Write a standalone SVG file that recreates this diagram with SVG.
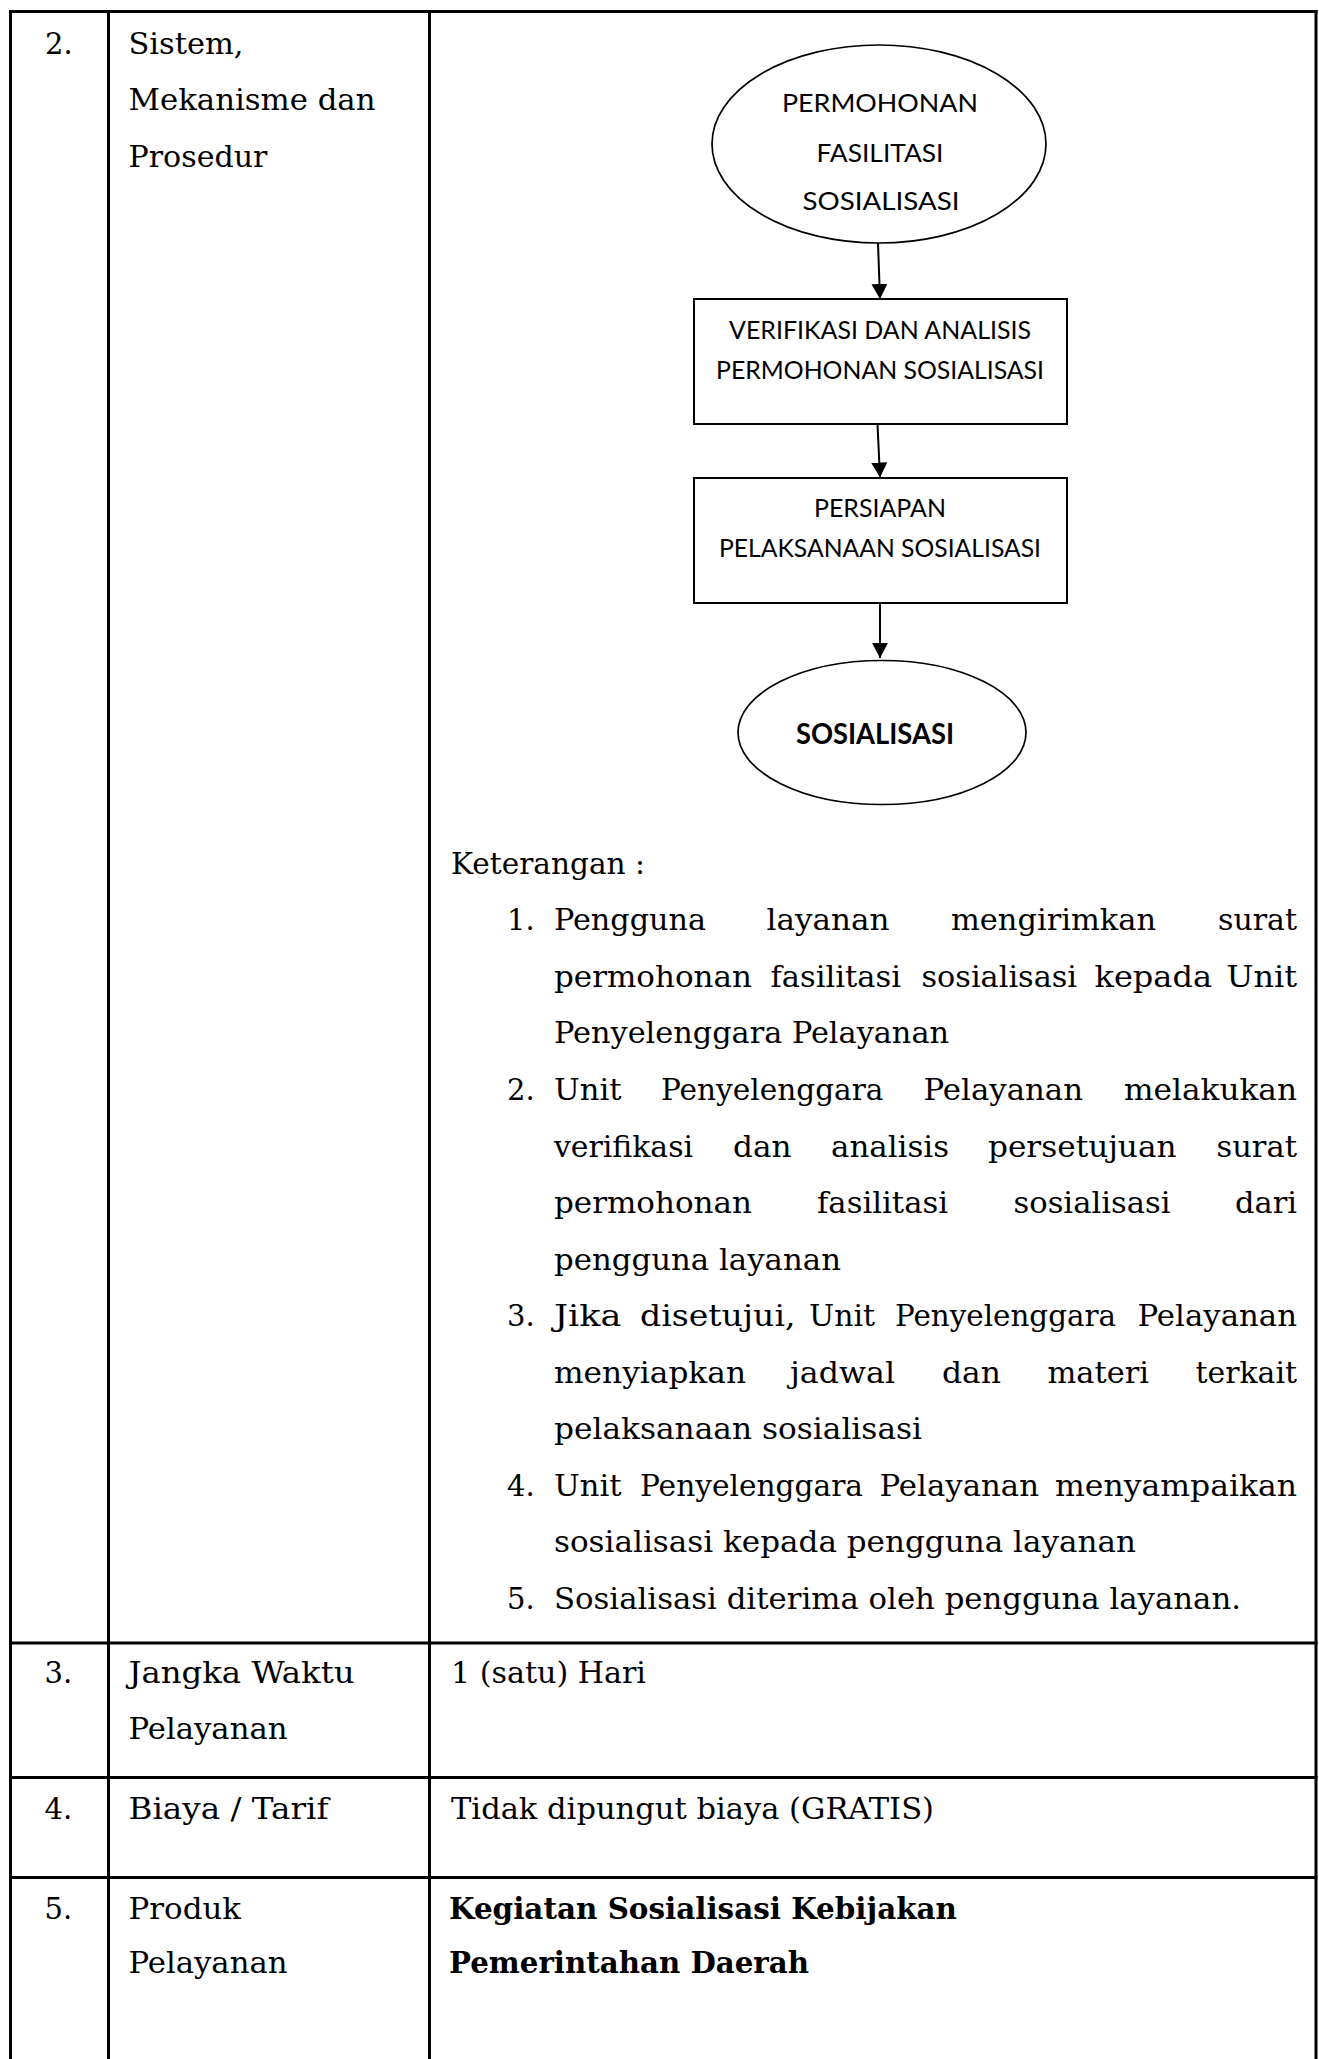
<svg xmlns="http://www.w3.org/2000/svg" width="1319" height="2059" viewBox="0 0 1319 2059">
  <style>
    .grid { stroke: #000; stroke-width: 3; fill: none; }
    .cell { font-family: "DejaVu Serif", "Liberation Serif", serif; font-size: 29px; fill: #000; }
    .bold { font-weight: bold; }
    .fc { font-family: Lato, "Liberation Sans", sans-serif; font-size: 25px; fill: #000; text-anchor: middle; }
    .fcb { font-weight: bold; font-size: 28px; }
    .oval { fill: #fff; stroke: #000; stroke-width: 1.7; }
    .box { fill: #fff; stroke: #000; stroke-width: 2; }
    .edge { stroke: #000; stroke-width: 2; fill: none; marker-end: url(#arrow); }
  </style>
  <defs>
    <marker id="arrow" markerUnits="userSpaceOnUse" viewBox="0 0 15 16" markerWidth="15" markerHeight="16" refX="15" refY="8" orient="auto">
      <path d="M0,0 L15,8 L0,16 Z" fill="#000"/>
    </marker>
  </defs>

  <rect x="0" y="0" width="1319" height="2059" fill="#fff"/>

  <!-- table grid -->
  <g id="table-grid" class="grid">
    <line x1="9" y1="11.5" x2="1317.5" y2="11.5"/>
    <line x1="10.5" y1="10" x2="10.5" y2="2059"/>
    <line x1="108.5" y1="10" x2="108.5" y2="2059"/>
    <line x1="429.5" y1="10" x2="429.5" y2="2059"/>
    <line x1="1316" y1="10" x2="1316" y2="2059"/>
    <line x1="9" y1="1643" x2="1317.5" y2="1643"/>
    <line x1="9" y1="1777.5" x2="1317.5" y2="1777.5"/>
    <line x1="9" y1="1877.5" x2="1317.5" y2="1877.5"/>
  </g>

  <!-- row 2: system, mechanism and procedure -->
  <g id="row-2-labels" class="cell">
    <text x="45" y="53.5">2.</text>
    <text x="128.5" y="53.5" textLength="115" lengthAdjust="spacingAndGlyphs">Sistem,</text>
    <text x="128.5" y="110" textLength="247" lengthAdjust="spacingAndGlyphs">Mekanisme dan</text>
    <text x="128.5" y="166.5" textLength="139" lengthAdjust="spacingAndGlyphs">Prosedur</text>
  </g>

  <!-- flowchart connectors -->
  <g id="connectors">
    <path class="edge" d="M878,243 L880,299"/>
    <path class="edge" d="M877.5,424 L880,477.5"/>
    <path class="edge" d="M880,603 L880,658"/>
  </g>

  <!-- flowchart nodes -->
  <g id="node-permohonan">
    <ellipse class="oval" cx="879" cy="144" rx="167" ry="99"/>
    <text class="fc" x="880" y="111.5" textLength="196" lengthAdjust="spacingAndGlyphs">PERMOHONAN</text>
    <text class="fc" x="880" y="161.5" textLength="127" lengthAdjust="spacingAndGlyphs">FASILITASI</text>
    <text class="fc" x="881" y="210" textLength="157" lengthAdjust="spacingAndGlyphs">SOSIALISASI</text>
  </g>
  <g id="node-verifikasi">
    <rect class="box" x="694" y="299" width="373" height="125"/>
    <text class="fc" x="880" y="338.5" textLength="302" lengthAdjust="spacingAndGlyphs">VERIFIKASI DAN ANALISIS</text>
    <text class="fc" x="880" y="379" textLength="328" lengthAdjust="spacingAndGlyphs">PERMOHONAN SOSIALISASI</text>
  </g>
  <g id="node-persiapan">
    <rect class="box" x="694" y="478" width="373" height="125"/>
    <text class="fc" x="880" y="516.5" textLength="132" lengthAdjust="spacingAndGlyphs">PERSIAPAN</text>
    <text class="fc" x="880" y="557" textLength="322" lengthAdjust="spacingAndGlyphs">PELAKSANAAN SOSIALISASI</text>
  </g>
  <g id="node-sosialisasi">
    <ellipse class="oval" cx="882" cy="732.5" rx="144" ry="72"/>
    <text class="fc fcb" x="875" y="744" textLength="158" lengthAdjust="spacingAndGlyphs">SOSIALISASI</text>
  </g>

  <!-- notes under the flowchart -->
  <g id="keterangan" class="cell">
    <text x="451" y="874" textLength="194" lengthAdjust="spacingAndGlyphs">Keterangan :</text>

    <text x="507" y="930">1.</text>
    <text y="930"><tspan x="554" textLength="152" lengthAdjust="spacingAndGlyphs">Pengguna</tspan><tspan x="766.5" textLength="123" lengthAdjust="spacingAndGlyphs">layanan</tspan><tspan x="951" textLength="205" lengthAdjust="spacingAndGlyphs">mengirimkan</tspan><tspan x="1218" textLength="79" lengthAdjust="spacingAndGlyphs">surat</tspan></text>
    <text y="987"><tspan x="554" textLength="198" lengthAdjust="spacingAndGlyphs">permohonan</tspan><tspan x="770.5" textLength="130.5" lengthAdjust="spacingAndGlyphs">fasilitasi</tspan><tspan x="921.5" textLength="155.5" lengthAdjust="spacingAndGlyphs">sosialisasi</tspan><tspan x="1094.5" textLength="117.5" lengthAdjust="spacingAndGlyphs">kepada</tspan><tspan x="1226.5" textLength="70.5" lengthAdjust="spacingAndGlyphs">Unit</tspan></text>
    <text x="554" y="1043" textLength="395" lengthAdjust="spacingAndGlyphs">Penyelenggara Pelayanan</text>

    <text x="507" y="1100">2.</text>
    <text y="1100"><tspan x="554" textLength="67.5" lengthAdjust="spacingAndGlyphs">Unit</tspan><tspan x="661" textLength="222.5" lengthAdjust="spacingAndGlyphs">Penyelenggara</tspan><tspan x="923.5" textLength="159.5" lengthAdjust="spacingAndGlyphs">Pelayanan</tspan><tspan x="1124" textLength="173" lengthAdjust="spacingAndGlyphs">melakukan</tspan></text>
    <text y="1157"><tspan x="554" textLength="139" lengthAdjust="spacingAndGlyphs">verifikasi</tspan><tspan x="733" textLength="58.5" lengthAdjust="spacingAndGlyphs">dan</tspan><tspan x="831" textLength="118" lengthAdjust="spacingAndGlyphs">analisis</tspan><tspan x="988" textLength="188.5" lengthAdjust="spacingAndGlyphs">persetujuan</tspan><tspan x="1216.5" textLength="80.5" lengthAdjust="spacingAndGlyphs">surat</tspan></text>
    <text y="1213"><tspan x="554" textLength="198" lengthAdjust="spacingAndGlyphs">permohonan</tspan><tspan x="817" textLength="131" lengthAdjust="spacingAndGlyphs">fasilitasi</tspan><tspan x="1013.5" textLength="157" lengthAdjust="spacingAndGlyphs">sosialisasi</tspan><tspan x="1235" textLength="62" lengthAdjust="spacingAndGlyphs">dari</tspan></text>
    <text x="554" y="1270" textLength="287" lengthAdjust="spacingAndGlyphs">pengguna layanan</text>

    <text x="507" y="1326">3.</text>
    <text y="1326"><tspan x="554" textLength="67.5" lengthAdjust="spacingAndGlyphs">Jika</tspan><tspan x="640" textLength="155.5" lengthAdjust="spacingAndGlyphs">disetujui,</tspan><tspan x="809" textLength="66" lengthAdjust="spacingAndGlyphs">Unit</tspan><tspan x="895" textLength="221" lengthAdjust="spacingAndGlyphs">Penyelenggara</tspan><tspan x="1137.5" textLength="159.5" lengthAdjust="spacingAndGlyphs">Pelayanan</tspan></text>
    <text y="1383"><tspan x="554" textLength="192" lengthAdjust="spacingAndGlyphs">menyiapkan</tspan><tspan x="790" textLength="105" lengthAdjust="spacingAndGlyphs">jadwal</tspan><tspan x="942" textLength="59" lengthAdjust="spacingAndGlyphs">dan</tspan><tspan x="1047.5" textLength="101.5" lengthAdjust="spacingAndGlyphs">materi</tspan><tspan x="1195.5" textLength="101.5" lengthAdjust="spacingAndGlyphs">terkait</tspan></text>
    <text x="554" y="1439" textLength="368" lengthAdjust="spacingAndGlyphs">pelaksanaan sosialisasi</text>

    <text x="507" y="1496">4.</text>
    <text y="1496"><tspan x="554" textLength="67.5" lengthAdjust="spacingAndGlyphs">Unit</tspan><tspan x="640" textLength="223" lengthAdjust="spacingAndGlyphs">Penyelenggara</tspan><tspan x="879.5" textLength="159.5" lengthAdjust="spacingAndGlyphs">Pelayanan</tspan><tspan x="1055" textLength="242" lengthAdjust="spacingAndGlyphs">menyampaikan</tspan></text>
    <text x="554" y="1552" textLength="582" lengthAdjust="spacingAndGlyphs">sosialisasi kepada pengguna layanan</text>

    <text x="507" y="1609">5.</text>
    <text x="554" y="1609" textLength="687" lengthAdjust="spacingAndGlyphs">Sosialisasi diterima oleh pengguna layanan.</text>
  </g>

  <!-- row 3: service time -->
  <g id="row-3" class="cell">
    <text x="44.5" y="1682.5">3.</text>
    <text x="128.5" y="1682.5" textLength="226" lengthAdjust="spacingAndGlyphs">Jangka Waktu</text>
    <text x="128.5" y="1738.5" textLength="159" lengthAdjust="spacingAndGlyphs">Pelayanan</text>
    <text x="451" y="1682.5" textLength="195" lengthAdjust="spacingAndGlyphs">1 (satu) Hari</text>
  </g>

  <!-- row 4: cost / tariff -->
  <g id="row-4" class="cell">
    <text x="44.5" y="1818.5">4.</text>
    <text x="128.5" y="1818.5" textLength="200" lengthAdjust="spacingAndGlyphs">Biaya / Tarif</text>
    <text x="451" y="1818.5" textLength="483" lengthAdjust="spacingAndGlyphs">Tidak dipungut biaya (GRATIS)</text>
  </g>

  <!-- row 5: service product -->
  <g id="row-5" class="cell">
    <text x="44.5" y="1918.5">5.</text>
    <text x="128.5" y="1918.5" textLength="112.5" lengthAdjust="spacingAndGlyphs">Produk</text>
    <text x="128.5" y="1973" textLength="159" lengthAdjust="spacingAndGlyphs">Pelayanan</text>
    <text class="bold" x="449" y="1918.5" textLength="508" lengthAdjust="spacingAndGlyphs">Kegiatan Sosialisasi Kebijakan</text>
    <text class="bold" x="449" y="1973" textLength="360" lengthAdjust="spacingAndGlyphs">Pemerintahan Daerah</text>
  </g>
</svg>
